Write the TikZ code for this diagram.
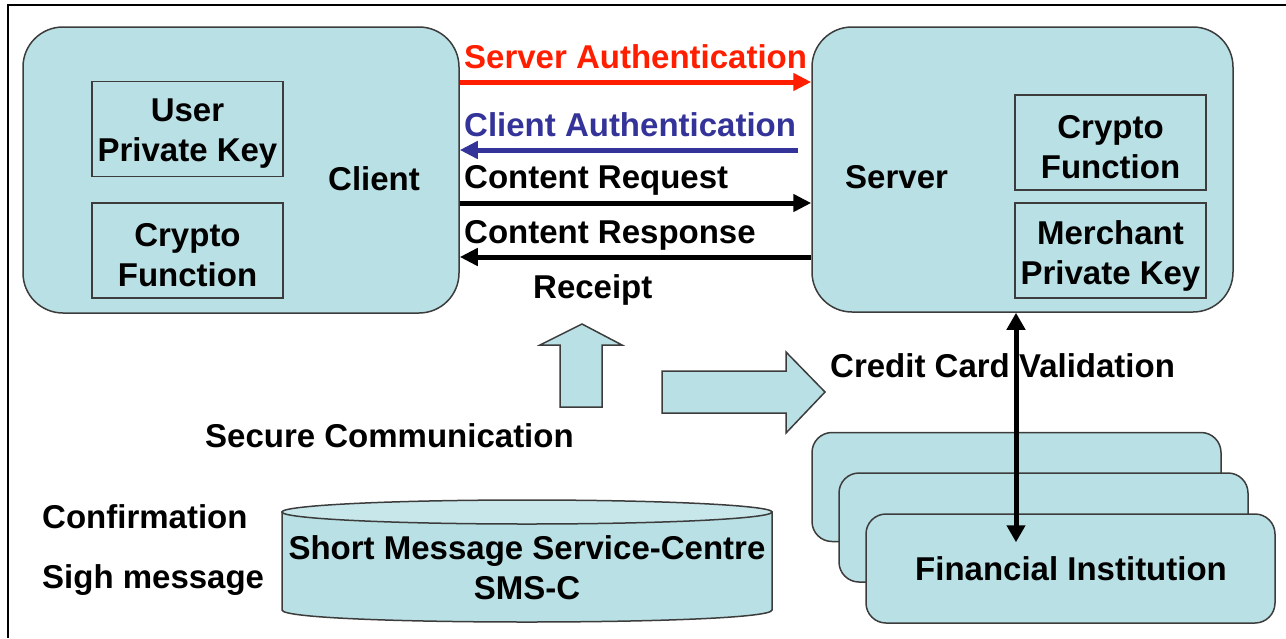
\documentclass[tikz,border=0pt]{standalone}
\usepackage{fontspec}
\setmainfont{Liberation Sans}
\usetikzlibrary{arrows.meta}
\definecolor{boxfill}{RGB}{185,224,228}
\definecolor{topfill}{RGB}{200,231,235}
\definecolor{edge}{RGB}{60,60,60}
\definecolor{authred}{RGB}{255,30,0}
\definecolor{authblue}{RGB}{51,51,153}
\tikzset{
  txt/.style={font=\fontsize{33}{40}\selectfont\bfseries, inner sep=0pt},
  lbl/.style={txt, anchor=base west},
  bigbox/.style={draw=edge, line width=1.5pt, fill=boxfill, rounded corners=40pt, inner sep=0pt},
  inbox/.style={draw=edge, line width=1.5pt, fill=boxfill, minimum width=191pt, minimum height=95pt, inner sep=0pt},
  intext/.style={txt, align=center, yshift=-5pt},
  fibox/.style={draw=edge, line width=1.5pt, fill=boxfill, rounded corners=20pt, minimum width=409pt, minimum height=109pt, inner sep=0pt},
  flow/.style={line width=5pt, -{Triangle[length=18pt,width=17pt]}},
  blockarrow/.style={draw=edge, line width=1.5pt, fill=boxfill, line join=miter},
}
\begin{document}
\begin{tikzpicture}[x=1pt,y=-1pt]
\useasboundingbox (0,0) rectangle (1286,638);
% frame
\draw[line width=2pt] (8,638) -- (8,5) -- (1286,5);
% client
\node[bigbox, minimum width=436pt, minimum height=286pt] (client) at (241,170) {};
\node[inbox] (ukey) at (187.5,129) {};
\node[intext] (ukeyt) at (ukey.center) {User\\Private Key};
\node[inbox] (ccrypto) at (187.5,250.5) {};
\node[intext] (ccryptot) at (ccrypto.center) {Crypto\\Function};
\node[lbl] (clientlbl) at (328,190) {Client};
% server
\node[bigbox, minimum width=421pt, minimum height=285pt] (server) at (1022.5,169.5) {};
\node[inbox] (scrypto) at (1110.5,142.5) {};
\node[intext] (scryptot) at (scrypto.center) {Crypto\\Function};
\node[inbox] (mkey) at (1110.5,250.5) {};
\node[intext] (mkeyt) at (mkey.center) {Merchant\\Private Key};
\node[lbl] (serverlbl) at (845,188) {Server};
% flows
\draw[flow, draw=authred, -{Triangle[length=18pt,width=17pt,fill=authred]}] (client.east |- 0,82) -- (server.west |- 0,82);
\node[lbl, text=authred] (sauth) at (464,68) {Server Authentication};
\coordinate (cafrom) at (798,150);
\draw[flow, draw=authblue] (cafrom) -- (client.east |- cafrom);
\node[lbl, text=authblue] (cauth) at (464,136) {Client Authentication};
\draw[flow] (client.east |- 0,203) -- (server.west |- 0,203);
\node[lbl] (creq) at (464,188) {Content Request};
\draw[flow] (server.west |- 0,257) -- (client.east |- 0,257);
\node[lbl] (cresp) at (464,243) {Content Response};
\node[lbl] (receipt) at (533,298) {Receipt};
% block arrows
\path[blockarrow] (582,324) -- (622,345) -- (602,345) -- (602,407) -- (560,407) -- (560,345) -- (540,345) -- cycle;
\path[blockarrow] (662,371) -- (786,371) -- (786,352) -- (825,392) -- (786,433) -- (786,413) -- (662,413) -- cycle;
\node[lbl] (secure) at (205,447) {Secure Communication};
\node[lbl] (ccv) at (830,377) {Credit Card Validation};
% financial institutions
\node[fibox] (fiback) at (1016.5,487) {};
\node[fibox] (fimid) at (1043.5,527.5) {};
\node[fibox] (fifront) at (1070.5,568.5) {};
\node[lbl] (filbl) at (915,580) {Financial Institution};
\draw[line width=5pt, {Triangle[length=17pt,width=18pt]}-{Triangle[length=17pt,width=18pt]}] (server.south -| 1016,0) -- (fiback.south -| 1016,0);
% SMS-C cylinder
\path[draw=edge, line width=1.5pt, fill=boxfill] (282,512) -- (282,610) .. controls (282,626) and (772,626) .. (772,610) -- (772,512) -- cycle;
\draw[draw=edge, line width=1.5pt, fill=topfill] (527,512) ellipse [x radius=245, y radius=12];
\node[txt, align=center] (sms) at (527,568) {Short Message Service-Centre\\SMS-C};
\node[lbl] (confirm) at (42,528) {Confirmation};
\node[lbl] (sigh) at (42,588) {Sigh message};
\end{tikzpicture}
\end{document}
